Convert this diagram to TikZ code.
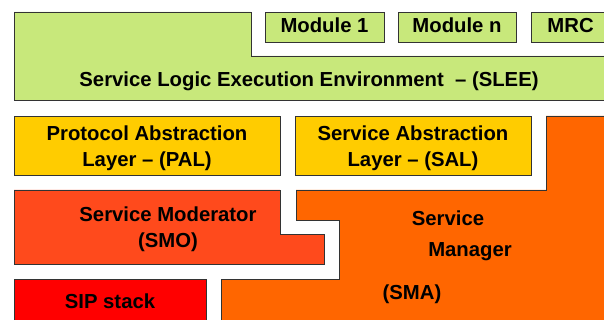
\documentclass[tikz,border=0pt]{standalone}
\usepackage{fontspec}
\setmainfont{Liberation Sans}
\definecolor{sleegreen}{HTML}{C8E87B}
\definecolor{layeryellow}{HTML}{FFCC00}
\definecolor{smored}{HTML}{FF4A1C}
\definecolor{smaorange}{HTML}{FF6600}
\definecolor{sipred}{HTML}{FF0000}
\definecolor{edge}{HTML}{333333}
\tikzset{
  outline/.style={draw=edge, line width=0.9pt},
  lbl/.style={font=\bfseries\fontsize{20.3}{26}\selectfont, text=black, inner sep=0pt},
  blk/.style={outline, lbl, align=center, minimum height=#1, inner sep=0pt},
}
\begin{document}
\begin{tikzpicture}[x=1pt, y=-1pt]
\useasboundingbox (0,0) rectangle (604,320);
% SLEE
\draw[outline, fill=sleegreen] (14,12) -- (251,12) -- (251,56) -- (615,56) -- (615,100) -- (14,100) -- cycle;
\node[lbl, anchor=base] (slee) at (309,87) {Service Logic Execution Environment\ \ – (SLEE)};
% modules
\node[blk=30pt, fill=sleegreen, minimum width=119pt, text depth=4pt] (mod1) at (324.5,27) {Module 1};
\node[blk=30pt, fill=sleegreen, minimum width=118pt, text depth=4pt] (modn) at (457,27) {Module n};
\node[blk=30pt, fill=sleegreen, minimum width=84pt, anchor=west, text width=76pt, align=left, text depth=4pt] (mrc) at (531,27) {\hspace*{12pt}MRC};
% layers
\node[blk=59pt, fill=layeryellow, minimum width=266pt, text height=47pt, text depth=4.3pt] (pal) at (147,145.5) {Protocol Abstraction\\Layer – (PAL)};
\node[blk=59pt, fill=layeryellow, minimum width=236pt, text height=47pt, text depth=4.3pt] (sal) at (413,145.5) {Service Abstraction\\Layer – (SAL)};
% SMA
\draw[outline, fill=smaorange] (546,116) -- (615,116) -- (615,330) -- (221,330) -- (221,279) -- (339,279) -- (339,220) -- (296,220) -- (296,190) -- (546,190) -- cycle;
\node[lbl, anchor=base] (smaA) at (448,225.5) {Service};
\node[lbl, anchor=base] (smaB) at (470,256) {Manager};
\node[lbl, anchor=base] (smaC) at (412,299) {(SMA)};
% SMO
\draw[outline, fill=smored] (14,190) -- (280,190) -- (280,234) -- (324,234) -- (324,264) -- (14,264) -- cycle;
\node[lbl, align=center] (smo) at (168,229) {Service Moderator\\(SMO)};
% SIP
\node[blk=51pt, fill=sipred, minimum width=192pt, text depth=7pt] (sip) at (110,304.5) {SIP stack};
\end{tikzpicture}
\end{document}
